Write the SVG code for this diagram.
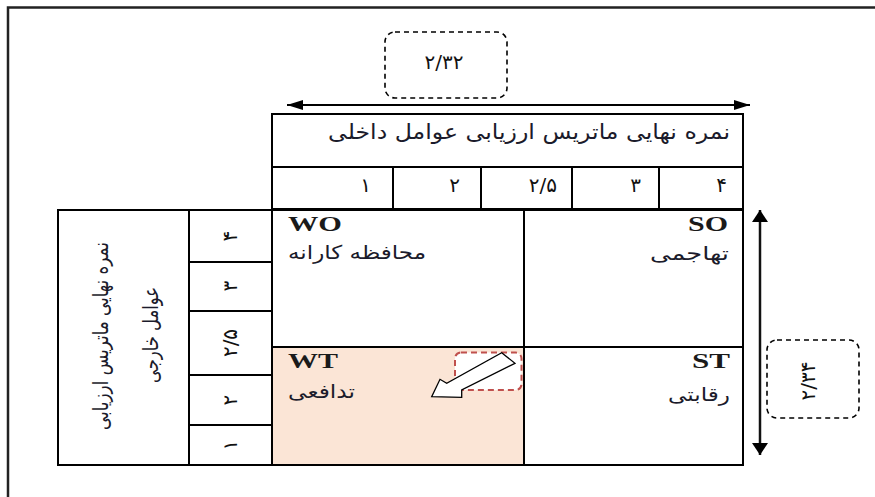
<svg xmlns="http://www.w3.org/2000/svg" width="875" height="497" viewBox="0 0 875 497">
<defs>
<style>
.ln{fill:none;stroke:#000;stroke-width:2}
.cell{fill:#fff;stroke:#000;stroke-width:2}
.fa{font-family:"DejaVu Sans",sans-serif;fill:#1b1b2b}
.num{font-family:"DejaVu Sans",sans-serif;fill:#111;font-size:20px}
.lat{font-family:"Liberation Serif",serif;font-size:21px;font-weight:bold;fill:#1a1a1a}
.dash{fill:#fff;stroke:#000;stroke-width:1.6;stroke-dasharray:5 4}
</style>
<marker id="ah" markerUnits="userSpaceOnUse" markerWidth="16" markerHeight="10" refX="16" refY="5" orient="auto-start-reverse">
<path d="M0,0 L16,5 L0,10 z" fill="#000"/>
</marker>
<marker id="av" markerUnits="userSpaceOnUse" markerWidth="12" markerHeight="16" refX="12" refY="8" orient="auto-start-reverse">
<path d="M0,0 L12,8 L0,16 z" fill="#000"/>
</marker>
</defs>
<rect width="875" height="497" fill="#fff"/>
<g id="frame">
<path d="M8,497 V7.5 H875" fill="none" stroke="#222" stroke-width="2.5"/>
</g>
<g id="internal-header">
<rect class="cell" x="272" y="114" width="471" height="95"/>
<line class="ln" x1="272" y1="167" x2="743" y2="167"/>
<line class="ln" x1="393" y1="167" x2="393" y2="209"/>
<line class="ln" x1="481" y1="167" x2="481" y2="209"/>
<line class="ln" x1="572" y1="167" x2="572" y2="209"/>
<line class="ln" x1="659" y1="167" x2="659" y2="209"/>
<text class="fa" x="730" y="139" font-size="21" text-anchor="end" textLength="402" lengthAdjust="spacingAndGlyphs">نمره نهایی ماتریس ارزیابی عوامل داخلی</text>
<text class="num" x="371" y="192" text-anchor="end">۱</text>
<text class="num" x="460" y="192" text-anchor="end">۲</text>
<text class="num" x="557" y="192" text-anchor="end">۲/۵</text>
<text class="num" x="641" y="192" text-anchor="end">۳</text>
<text class="num" x="727" y="192" text-anchor="end">۴</text>
</g>
<g id="external-header">
<rect class="cell" x="58" y="210" width="214" height="255"/>
<line class="ln" x1="189" y1="210" x2="189" y2="465"/>
<line class="ln" x1="189" y1="262" x2="272" y2="262"/>
<line class="ln" x1="189" y1="311" x2="272" y2="311"/>
<line class="ln" x1="189" y1="375" x2="272" y2="375"/>
<line class="ln" x1="189" y1="425" x2="272" y2="425"/>
<text class="fa" font-size="21" transform="translate(101,336) rotate(-90)" text-anchor="middle" dominant-baseline="central" textLength="188" lengthAdjust="spacingAndGlyphs">نمره نهایی ماتریس ارزیابی</text>
<text class="fa" font-size="21" transform="translate(151,335) rotate(-90)" text-anchor="middle" dominant-baseline="central" textLength="96" lengthAdjust="spacingAndGlyphs">عوامل خارجی</text>
<text class="num" transform="translate(230,236) rotate(-90)" text-anchor="middle" dominant-baseline="central">۴</text>
<text class="num" transform="translate(230,286) rotate(-90)" text-anchor="middle" dominant-baseline="central">۳</text>
<text class="num" transform="translate(230,343) rotate(-90)" text-anchor="middle" dominant-baseline="central">۲/۵</text>
<text class="num" transform="translate(230,400) rotate(-90)" text-anchor="middle" dominant-baseline="central">۲</text>
<text class="num" transform="translate(230,445) rotate(-90)" text-anchor="middle" dominant-baseline="central">۱</text>
</g>
<g id="WO">
<rect class="cell" x="272" y="210" width="252" height="137"/>
<text class="lat" x="288" y="231" textLength="54" lengthAdjust="spacingAndGlyphs">WO</text>
<text class="fa" x="426" y="259" font-size="19" text-anchor="end" textLength="138" lengthAdjust="spacingAndGlyphs">محافظه کارانه</text>
</g>
<g id="SO">
<rect class="cell" x="524" y="210" width="219" height="137"/>
<text class="lat" x="728" y="231" text-anchor="end" textLength="40" lengthAdjust="spacingAndGlyphs">SO</text>
<text class="fa" x="729" y="260" font-size="19" text-anchor="end" textLength="79" lengthAdjust="spacingAndGlyphs">تهاجمی</text>
</g>
<g id="WT">
<rect x="272" y="347" width="252" height="118" fill="#fbe5d6" stroke="#000" stroke-width="2"/>
<text class="lat" x="288" y="368" textLength="50" lengthAdjust="spacingAndGlyphs">WT</text>
<text class="fa" x="355" y="398" font-size="19" text-anchor="end" textLength="67" lengthAdjust="spacingAndGlyphs">تدافعی</text>
<rect x="455" y="352.5" width="66.5" height="37.5" rx="6" fill="#fff" stroke="#c0504d" stroke-width="2" stroke-dasharray="6 4"/>
<polygon points="501.7,352.7 515,363.3 461.7,390 461.7,397.3 431.7,396.7 440,379.3 446.7,383.3" fill="#fff" stroke="#000" stroke-width="1.3" stroke-linejoin="miter"/>
</g>
<g id="ST">
<rect class="cell" x="524" y="347" width="219" height="118"/>
<text class="lat" x="730" y="368" text-anchor="end" textLength="38" lengthAdjust="spacingAndGlyphs">ST</text>
<text class="fa" x="730" y="401" font-size="19" text-anchor="end" textLength="62" lengthAdjust="spacingAndGlyphs">رقابتی</text>
</g>
<g id="internal-score">
<rect class="dash" x="385" y="32" width="122" height="66" rx="10"/>
<text class="num" x="444" y="69" text-anchor="middle">۲/۳۲</text>
</g>
<g id="external-score">
<rect class="dash" x="767" y="340" width="92" height="78" rx="10"/>
<text class="num" transform="translate(808,381) rotate(-90)" text-anchor="middle" dominant-baseline="central">۲/۳۴</text>
</g>
<g id="connectors">
<line x1="287" y1="105" x2="750" y2="105" stroke="#000" stroke-width="2" marker-start="url(#ah)" marker-end="url(#ah)"/>
<line x1="760" y1="210" x2="760" y2="455" stroke="#111" stroke-width="2.5" marker-start="url(#av)" marker-end="url(#av)"/>
</g>
</svg>
